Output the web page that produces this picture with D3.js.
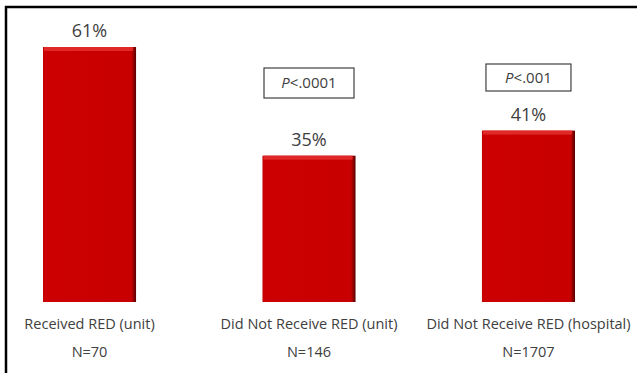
<!DOCTYPE html>
<html>
<head>
  <meta charset="utf-8">
  <title>RED rates</title>
  <style>
    body { margin: 0; background: #fff; }
    text { font-family: "Open Sans", Lato, sans-serif; fill: #404040; }
  </style>
  <script src="https://d3js.org/d3.v7.min.js"></script>
</head>
<body>
  <div id="chart"></div>
  <script>
    // data
    const categories = ["Received RED (unit)", "Did Not Receive RED (unit)", "Did Not Receive RED (hospital)"];
    const nLabels = ["N=70", "N=146", "N=1707"];
    const values = [61, 35, 41];
    const pLabels = [null, ".0001", ".001"];

    const width = 637, height = 373;
    const baseY = 302;

    const svg = d3.select("#chart").append("svg")
      .attr("width", width)
      .attr("height", height);

    // frame (top and left only)
    svg.append("line").attr("x1", 5).attr("x2", 637).attr("y1", 7).attr("y2", 7)
      .attr("stroke", "#000").attr("stroke-width", 2.5);
    svg.append("line").attr("x1", 6).attr("x2", 6).attr("y1", 6).attr("y2", 373)
      .attr("stroke", "#000").attr("stroke-width", 2.5);

    const x = d3.scaleBand()
      .domain(categories)
      .range([43, 575])
      .paddingInner(0.576)
      .paddingOuter(0);

    const y = d3.scaleLinear()
      .domain([0, 61])
      .range([baseY, 47]);

    const defs = svg.append("defs");
    const grad = defs.append("linearGradient").attr("id", "bevelX")
      .attr("x1", 0).attr("x2", 1).attr("y1", 0).attr("y2", 0);
    grad.append("stop").attr("offset", "0%").attr("stop-color", "#c40000");
    grad.append("stop").attr("offset", "3%").attr("stop-color", "#cc0000");
    grad.append("stop").attr("offset", "95%").attr("stop-color", "#c80000");
    grad.append("stop").attr("offset", "100%").attr("stop-color", "#5a0000");

    const bars = svg.selectAll("g.bar")
      .data(categories)
      .enter()
      .append("g")
      .attr("class", "bar");

    bars.append("rect")
      .attr("x", d => x(d))
      .attr("y", (d, i) => y(values[i]))
      .attr("width", x.bandwidth())
      .attr("height", (d, i) => baseY - y(values[i]))
      .attr("fill", "url(#bevelX)");

    // top bevel highlight
    bars.append("rect")
      .attr("x", d => x(d) + 1)
      .attr("y", (d, i) => y(values[i]))
      .attr("width", x.bandwidth() - 4)
      .attr("height", 4)
      .attr("fill", "#e02828");

    // value labels
    svg.selectAll("text.val")
      .data(categories)
      .enter()
      .append("text")
      .attr("class", "val")
      .attr("x", d => x(d) + x.bandwidth() / 2)
      .attr("y", (d, i) => y(values[i]) - 10)
      .attr("text-anchor", "middle")
      .attr("font-size", 18)
      .text((d, i) => values[i] + "%");

    // p-value boxes
    const pBoxes = [
      { w: 90, h: 30, top: 68 },
      { w: 85, h: 27, top: 64 }
    ];
    categories.forEach((c, i) => {
      if (!pLabels[i]) return;
      const b = pBoxes[i - 1];
      const cx = x(c) + x.bandwidth() / 2;
      svg.append("rect")
        .attr("x", cx - b.w / 2)
        .attr("y", b.top)
        .attr("width", b.w)
        .attr("height", b.h)
        .attr("fill", "#fff")
        .attr("stroke", "#404040")
        .attr("stroke-width", 1.2);
      const t = svg.append("text")
        .attr("x", cx)
        .attr("y", b.top + b.h / 2 + 5)
        .attr("text-anchor", "middle")
        .attr("font-size", 15);
      t.append("tspan").attr("font-style", "italic").text("P");
      t.append("tspan").text("<" + pLabels[i]);
    });

    // category labels
    svg.selectAll("text.cat")
      .data(categories)
      .enter()
      .append("text")
      .attr("class", "cat")
      .attr("x", d => x(d) + x.bandwidth() / 2)
      .attr("y", 329)
      .attr("text-anchor", "middle")
      .attr("font-size", 14.5)
      .text(d => d);

    svg.selectAll("text.n")
      .data(categories)
      .enter()
      .append("text")
      .attr("class", "n")
      .attr("x", d => x(d) + x.bandwidth() / 2)
      .attr("y", 357)
      .attr("text-anchor", "middle")
      .attr("font-size", 14.5)
      .text((d, i) => nLabels[i]);
  </script>
</body>
</html>
